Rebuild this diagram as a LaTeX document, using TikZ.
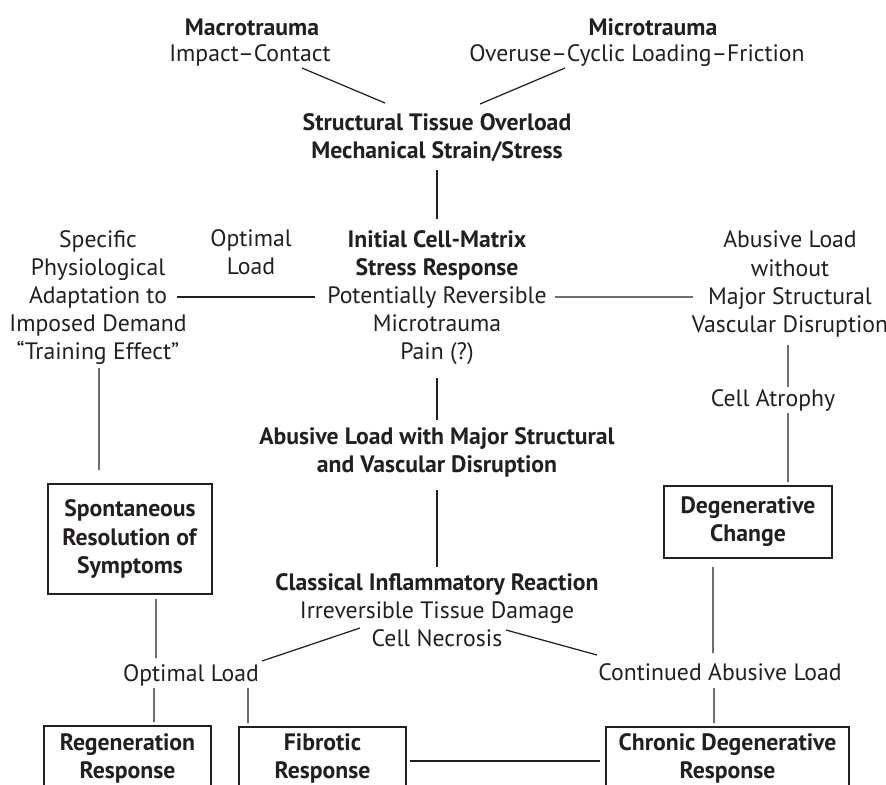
\documentclass[tikz,border=0pt]{standalone}
\usepackage{fontspec}
\setmainfont{PT Sans}
\usepackage{tikz}
\usetikzlibrary{calc}
\definecolor{ink}{RGB}{35,31,32}

\begin{document}
\begin{tikzpicture}[scale=0.2]
\tikzstyle{every node}+=[inner sep=0pt, align=center, text=ink, font=\fontsize{13.5}{16}\selectfont]
\tikzstyle{box}=[draw=ink, line width=0.7pt]
\useasboundingbox (0,0) rectangle (88.6,-78.4);
\draw (25.2,-2.75) node (macro) {\textbf{Macrotrauma}};
\draw (25.0,-5.55) node (macrocause) {Impact--Contact};
\draw (65.3,-2.75) node (micro) {\textbf{Microtrauma}};
\draw (63.7,-5.55) node (microcause) {Overuse--Cyclic Loading--Friction};
\draw (43.7,-13.75) node (overload) {\textbf{Structural Tissue Overload}\\\textbf{Mechanical Strain/Stress}};
\draw (43.7,-29.75) node (stress) {\textbf{Initial Cell-Matrix}\\\textbf{Stress Response}\\Potentially Reversible\\Microtrauma\\Pain (?)};
\draw (9.8,-29.75) node (adapt) {Specific\\Physiological\\Adaptation to\\Imposed Demand\\“Training Effect”};
\draw (25.1,-25.2) node (optload) {Optimal\\Load};
\draw (79.0,-28.4) node (abusive) {Abusive Load\\without\\Major Structural\\Vascular Disruption};
\draw (77.3,-40.0) node (atrophy) {Cell Atrophy};
\draw (43.7,-45.25) node (major) {\textbf{Abusive Load with Major Structural}\\\textbf{and Vascular Disruption}};
\draw (13.0,-53.9) node [box, minimum width=3.28cm, minimum height=2.2cm] (spont) {\textbf{Spontaneous}\\\textbf{Resolution of}\\\textbf{Symptoms}};
\draw (74.8,-52.2) node [box, minimum width=3.36cm, minimum height=1.44cm] (degen) {\textbf{Degenerative}\\\textbf{Change}};
\draw (43.7,-61.05) node (inflam) {\textbf{Classical Inflammatory Reaction}\\Irreversible Tissue Damage\\Cell Necrosis};
\draw (19.1,-67.5) node (optload2) {Optimal Load};
\draw (72.0,-67.2) node (contload) {Continued Abusive Load};
\draw (12.75,-75.8) node [box, minimum width=3.34cm, minimum height=1.28cm] (regen) {\textbf{Regeneration}\\\textbf{Response}};
\draw (32.25,-75.8) node [box, minimum width=3.34cm, minimum height=1.24cm] (fibro) {\textbf{Fibrotic}\\\textbf{Response}};
\draw (72.75,-75.8) node [box, minimum width=4.86cm, minimum height=1.24cm] (chronic) {\textbf{Chronic Degenerative}\\\textbf{Response}};
% connectors
\draw [ink, line width=0.7pt] ($(macrocause)+(5.2,-1.25)$) -- ($(overload)+(-5.2,3.45)$);
\draw [ink, line width=0.7pt] ($(microcause)+(-7.2,-1.25)$) -- ($(overload)+(4.3,3.35)$);
\draw [ink, line width=0.7pt] ($(overload)+(0,-3.25)$) -- ($(stress)+(0,7.85)$);
\draw [ink, line width=0.7pt] ($(adapt)+(7.9,0.05)$) -- ($(stress)+(-12.2,0.05)$);
\draw [ink, line width=0.7pt] ($(stress)+(11.8,0.05)$) -- ($(abusive)+(-9.7,-1.3)$);
\draw [ink, line width=0.7pt] ($(abusive)+(-0.2,-6.1)$) -- ($(atrophy)+(1.5,1.3)$);
\draw [ink, line width=0.7pt] ($(atrophy)+(1.5,-1.3)$) -- ($(degen)+(4.0,4.0)$);
\draw [ink, line width=0.7pt] ($(adapt)+(0.1,-7.05)$) -- ($(spont)+(-3.1,6.9)$);
\draw [ink, line width=0.7pt] ($(stress)+(0,-8.05)$) -- ($(major)+(0,3.25)$);
\draw [ink, line width=0.7pt] ($(major)+(0,-3.75)$) -- ($(inflam)+(0,4.35)$);
\draw [ink, line width=0.7pt] ($(spont)+(2.6,-6.0)$) -- ($(optload2)+(-3.5,1.7)$);
\draw [ink, line width=0.7pt] ($(degen)+(-3.5,-4.5)$) -- ($(contload)+(-0.7,1.9)$);
\draw [ink, line width=0.7pt] ($(inflam)+(-7.7,-1.75)$) -- ($(optload2)+(7.1,1.4)$);
\draw [ink, line width=0.7pt] ($(inflam)+(6.9,-1.95)$) -- ($(contload)+(-12.3,1.7)$);
\draw [ink, line width=0.7pt] ($(optload2)+(-3.7,-1.3)$) -- ($(regen)+(2.65,3.6)$);
\draw [ink, line width=0.7pt] ($(optload2)+(5.7,-1.3)$) -- ($(fibro)+(-7.45,3.5)$);
\draw [ink, line width=0.7pt] ($(contload)+(-0.6,-1.6)$) -- ($(chronic)+(-1.35,3.5)$);
\draw [ink, line width=0.7pt] ($(fibro)+(8.75,-0.3)$) -- ($(chronic)+(-12.75,-0.3)$);
\end{tikzpicture}
\end{document}
